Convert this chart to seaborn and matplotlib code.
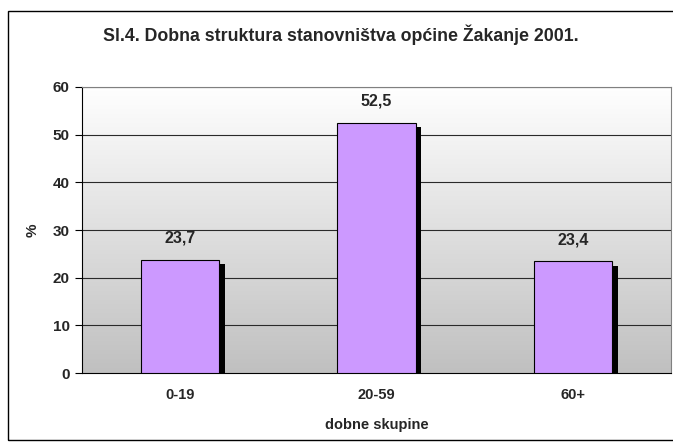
import numpy as np
import pandas as pd
import matplotlib
matplotlib.use("Agg")
import matplotlib.pyplot as plt
import matplotlib.patches as mpatches
import matplotlib.patheffects as pe
import seaborn as sns

groups = ["0-19", "20-59", "60+"]
shares = [23.7, 52.5, 23.4]
value_labels = ["23,7", "52,5", "23,4"]
y_ticks = [0, 10, 20, 30, 40, 50, 60]

sns.set_style("white")
plt.rcParams["font.family"] = ["Liberation Sans", "DejaVu Sans"]

df = pd.DataFrame({"group": groups, "share": shares})

W, H = 673, 448
fig = plt.figure(figsize=(W / 100, H / 100), dpi=100)
ax = fig.add_axes([82 / W, 1 - 373 / H, (671 - 82) / W, (373 - 87) / H])

# outer chart frame
fig.patches.append(mpatches.Rectangle((8 / W, 1 - 440 / H), 1.0, (440 - 11) / H,
                                      transform=fig.transFigure, fill=False,
                                      edgecolor="black", linewidth=1.0))

# gradient background (white top -> grey bottom)
grad = np.linspace(1, 0, 256).reshape(-1, 1)
cmap = matplotlib.colors.LinearSegmentedColormap.from_list("bg", ["#c0c0c0", "#ffffff"])
ax.imshow(grad, aspect="auto", cmap=cmap, extent=(-0.5, 2.5, 0, 60),
          origin="upper", zorder=0, vmin=0, vmax=1)

for y in y_ticks[1:]:
    ax.axhline(y, color="#2a2a2a", linewidth=0.8, zorder=1)

sns.barplot(data=df, x="group", y="share", color="#cc99ff", width=0.4,
            edgecolor="black", linewidth=0.8, saturation=1, ax=ax, zorder=3)
for bar in ax.patches:
    bar.set_path_effects([pe.SimplePatchShadow(offset=(4, -3), shadow_rgbFace="black",
                                               alpha=1.0), pe.Normal()])

for i, (v, lab) in enumerate(zip(shares, value_labels)):
    ax.text(i, v + 3, lab, ha="center", va="bottom", fontsize=11.5, fontweight="bold")

ax.set_xlim(-0.5, 2.5)
ax.set_ylim(0, 60)
ax.set_yticks(y_ticks)
ax.set_yticklabels([str(t) for t in y_ticks], fontsize=11, fontweight="bold")
ax.set_xticks(range(len(groups)))
ax.set_xticklabels(groups, fontsize=10.5, fontweight="bold")
ax.set_xticks([-0.5, 0.5, 1.5, 2.5], minor=True)
ax.tick_params(axis="x", which="major", length=0, pad=11)
ax.tick_params(axis="x", which="minor", length=5, width=0.8, color="black", direction="out")
ax.tick_params(axis="y", length=5, width=0.8, color="black", direction="out", left=True, pad=4)

for s in ax.spines.values():
    s.set_color("#808080")
    s.set_linewidth(0.8)
ax.spines["left"].set_color("black")
ax.spines["bottom"].set_color("black")

ax.set_xlabel("dobne skupine", fontsize=10.5, fontweight="bold", labelpad=11)
ax.set_ylabel("%", fontsize=11, fontweight="bold", labelpad=9)

fig.text(341 / W, 1 - 35 / H, "Sl.4. Dobna struktura stanovništva općine Žakanje 2001.",
         ha="center", va="center", fontsize=12.8, fontweight="bold")

fig.savefig("out.png", dpi=100, facecolor="white")
